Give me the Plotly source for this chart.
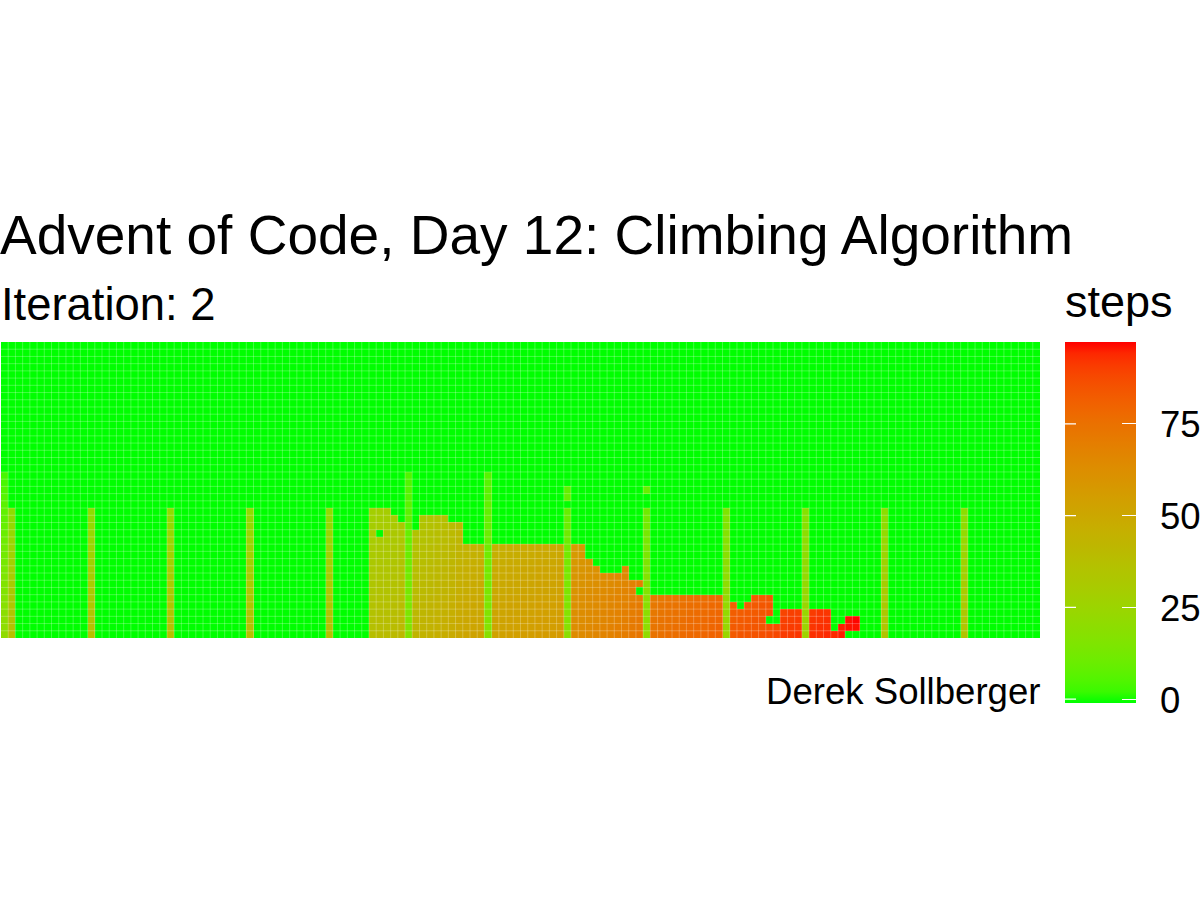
import numpy as np
import plotly.graph_objects as go

TITLE = "Advent of Code, Day 12: Climbing Algorithm"
SUBTITLE = "Iteration: 2"
CAPTION = "Derek Sollberger"
LEGEND_TITLE = "steps"
N_ROWS = 41
N_COLS = 144
UNVISITED = -1
LEGEND_MAX = 97.3
TICKS = [0, 25, 50, 75]

# Tall stripes: column -> (first row, values going down)
STRIPE_A = [20, 21, 22, 23, 24, 25, 26, 27, 28, 29, 30, 31, 32, 33, 34, 35, 36, 37]
STRIPE_B = [19, 20, 21, 22, 23, 24, 25, 26, 27, 28, 29, 30, 30, 31, 32, 33, 34, 35]
STRIPES = {
    0: (18, [4, 4, 5, 6, 7, 8, 8, 9, 10, 11, 12, 12, 13, 14, 15, 16, 16, 17, 18, 19, 20, 20, 21]),
    1: (23, STRIPE_A), 12: (23, STRIPE_A), 23: (23, STRIPE_A), 34: (23, STRIPE_A), 45: (23, STRIPE_A),
    122: (23, STRIPE_B), 133: (23, STRIPE_B),
    56: (18, [5, 5, 6, 6, 7, 7, 8, 8, 9, 9, 10, 10, 11, 11, 12, 12, 13, 14, 14, 15, 15, 16, 17]),
    67: (18, [6, 6, 7, 7, 8, 8, 9, 9, 10, 10, 11, 11, 12, 12, 13, 13, 14, 15, 15, 16, 16, 17, 18]),
    78: (20, [8, 9, UNVISITED, 9, 10, 10, 11, 11, 12, 12, 13, 13, 14, 14, 15, 15, 16, 17, 17, 18, 19]),
    89: (20, [9, UNVISITED, UNVISITED, 11, 12, 12, 13, 13, 14, 14, 15, 15, 16, 16, 17, 18, 18, 19, 19, 20, 21]),
    100: (23, [15, 16, 16, 17, 17, 18, 18, 19, 19, 20, 20, 21, 21, 22, 22, 23, 23, 24]),
    111: (23, [17, 18, 18, 19, 19, 20, 20, 21, 21, 22, 22, 23, 23, 24, 24, 25, 25, 26]),
}

# Main climbing front: column -> (first row, values going down)
FRONT = {
    51: (23, [28, 28, 29, 30, 30, 31, 31, 32, 33, 33, 34, 34, 35, 36, 36, 37, 37, 38]),
    52: (23, [29, 29, 30, UNVISITED, 31, 32, 32, 33, 34, 34, 35, 35, 36, 37, 37, 38, 38, 39]),
    53: (23, [29, 29, 30, 31, 31, 32, 32, 33, 34, 34, 35, 35, 36, 37, 37, 38, 38, 39]),
    54: (24, [30, 31, 32, 32, 33, 33, 34, 35, 35, 36, 36, 37, 38, 38, 39, 39, 40]),
    55: (25, [32, 33, 33, 34, 34, 35, 36, 36, 37, 37, 38, 39, 39, 40, 40, 41]),
    57: (26, [35, 35, 36, 36, 37, 38, 38, 39, 39, 40, 41, 41, 42, 42, 43]),
    58: (24, [34, 35, 36, 36, 37, 37, 38, 39, 39, 40, 40, 41, 42, 42, 43, 43, 44]),
    59: (24, [35, 36, 37, 37, 38, 38, 39, 40, 40, 41, 41, 42, 43, 43, 44, 44, 45]),
    60: (24, [36, 37, 38, 38, 39, 39, 40, 41, 41, 42, 42, 43, 44, 44, 45, 45, 46]),
    61: (24, [37, 38, 39, 39, 40, 40, 41, 42, 42, 43, 43, 44, 45, 45, 46, 46, 47]),
    62: (25, [39, 40, 40, 41, 41, 42, 43, 43, 44, 44, 45, 46, 46, 47, 47, 48]),
    63: (25, [41, 42, 42, 43, 43, 44, 45, 45, 46, 46, 47, 48, 48, 49, 49, 50]),
    64: (28, [44, 44, 45, 46, 46, 47, 47, 48, 49, 49, 50, 50, 51]),
    65: (28, [45, 45, 46, 47, 47, 48, 48, 49, 50, 50, 51, 51, 52]),
    66: (28, [45, 45, 46, 47, 47, 48, 48, 49, 50, 50, 51, 51, 52]),
    68: (28, [46, 46, 47, 48, 48, 49, 49, 50, 51, 51, 52, 52, 53]),
    69: (28, [46, 46, 47, 48, 48, 49, 49, 50, 51, 51, 52, 52, 53]),
    70: (28, [47, 47, 48, 49, 49, 50, 50, 51, 52, 52, 53, 53, 54]),
    71: (28, [47, 47, 48, 49, 49, 50, 50, 51, 52, 52, 53, 53, 54]),
    72: (28, [48, 48, 49, 50, 50, 51, 51, 52, 53, 53, 54, 54, 55]),
    73: (28, [48, 48, 49, 50, 50, 51, 51, 52, 53, 53, 54, 54, 55]),
    74: (28, [49, 49, 50, 51, 51, 52, 52, 53, 54, 54, 55, 55, 56]),
    75: (28, [49, 49, 50, 51, 51, 52, 52, 53, 54, 54, 55, 55, 56]),
    76: (28, [49, 49, 50, 51, 51, 52, 52, 53, 54, 54, 55, 55, 56]),
    77: (28, [50, 50, 51, 52, 52, 53, 53, 54, 55, 55, 56, 56, 57]),
    79: (28, [57, 57, 58, 59, 59, 60, 60, 61, 62, 62, 63, 63, 64]),
    80: (28, [57, 58, 59, 59, 60, 60, 61, 62, 62, 63, 63, 64, 64]),
    81: (30, [60, 60, 61, 61, 62, 63, 63, 64, 64, 65, 65]),
    82: (31, [61, 62, 62, 63, 64, 64, 65, 65, 66, 66]),
    83: (32, [63, 63, 64, 65, 65, 66, 66, 67, 67]),
    84: (32, [64, 64, 65, 66, 66, 67, 67, 68, 68]),
    85: (32, [65, 65, 66, 67, 67, 68, 68, 69, 69]),
    86: (31, [65, 65, 66, 67, 67, 68, 69, 69, 70, 70]),
    87: (33, [68, 69, 69, 70, 70, 71, 71, 72]),
    88: (33, [69, UNVISITED, 70, 71, 71, 72, 72, 73]),
    90: (35, [71, 72, 72, 73, 73, 74]),
    91: (35, [72, 73, 73, 74, 74, 75]),
    92: (35, [73, 74, 74, 75, 75, 76]),
    93: (35, [73, 74, 75, 75, 76, 76]),
    94: (35, [74, 75, 75, 76, 76, 77]),
    95: (35, [75, 76, 76, 77, 77, 78]),
    96: (35, [76, 76, 77, 77, 78, 78]),
    97: (35, [76, 77, 77, 78, 78, 79]),
    98: (35, [77, 78, 78, 79, 79, 80]),
    99: (35, [78, 78, 79, 79, 80, 80]),
    101: (36, [81, 82, 82, 83, 83]),
    102: (37, [82, 83, 83, 84]),
    103: (36, [82, 83, 83, 84, 84]),
    104: (35, [82, 83, 83, 84, 84, 85]),
    105: (35, [83, 84, 84, 85, 85, 86]),
    106: (35, [84, 84, 85, UNVISITED, 86, 87]),
    107: (39, [87, 88]),
    108: (37, [89, 90, 90, 91]),
    109: (37, [90, 90, 91, 91]),
    110: (37, [90, 91, 91, 92]),
    112: (37, [91, 92, 92, 93]),
    113: (37, [92, 92, 93, 93]),
    114: (37, [92, 93, 93, 94]),
    115: (40, [94]),
    116: (39, [95, 95]),
    117: (38, [96, 96]),
    118: (38, [97, 96]),
}

# ---- grid ----
z = np.full((N_ROWS, N_COLS), UNVISITED, dtype=float)
for table in (STRIPES, FRONT):
    for col, (first, vals) in table.items():
        for i, v in enumerate(vals):
            z[first + i, col] = v


# ---- green -> red colour ramp interpolated in Lab, as the original scale does ----
def srgb_to_lab(rgb):
    c = np.array(rgb, float) / 255
    lin = np.where(c > 0.04045, ((c + 0.055) / 1.055) ** 2.4, c / 12.92)
    m = np.array([[0.4124564, 0.3575761, 0.1804375],
                  [0.2126729, 0.7151522, 0.0721750],
                  [0.0193339, 0.1191920, 0.9503041]])
    xyz = m @ lin / np.array([0.95047, 1.0, 1.08883])
    f = np.where(xyz > 0.008856, np.cbrt(xyz), 7.787 * xyz + 16 / 116)
    return np.array([116 * f[1] - 16, 500 * (f[0] - f[1]), 200 * (f[1] - f[2])])


def lab_to_hex(lab):
    fy = (lab[0] + 16) / 116
    f = np.array([fy + lab[1] / 500, fy, fy - lab[2] / 200])
    xyz = np.where(f ** 3 > 0.008856, f ** 3, (f - 16 / 116) / 7.787) * np.array([0.95047, 1.0, 1.08883])
    m = np.array([[3.2404542, -1.5371385, -0.4985314],
                  [-0.9692660, 1.8760108, 0.0415560],
                  [0.0556434, -0.2040259, 1.0572252]])
    lin = np.clip(m @ xyz, 0, 1)
    c = np.where(lin > 0.0031308, 1.055 * lin ** (1 / 2.4) - 0.055, 12.92 * lin)
    r, g, b = np.round(c * 255).astype(int)
    return f"#{r:02x}{g:02x}{b:02x}"


low, high = srgb_to_lab([0, 255, 0]), srgb_to_lab([255, 0, 0])
colorscale = [[t, lab_to_hex(low + (high - low) * t)] for t in np.linspace(0, 1, 33)]

# ---- panel geometry ----
W, H = 1200, 900
P_L, P_R, P_T, P_B = 1, 1040, 342, 638
BAR_L, BAR_R, BAR_T, BAR_B = 1065, 1136, 342, 702.7


def px_x(p):
    return (p - P_L) / (P_R - P_L)


def px_y(p):
    return (P_B - p) / (P_B - P_T)


fig = go.Figure()
fig.add_trace(go.Heatmap(
    z=z, zmin=UNVISITED, zmax=LEGEND_MAX, colorscale=colorscale, xgap=0, ygap=0,
    colorbar=dict(
        xref="container", yref="paper", x=BAR_L / W, xanchor="left",
        y=px_y(BAR_B), yanchor="bottom",
        len=BAR_B - BAR_T, lenmode="pixels", thickness=BAR_R - BAR_L, thicknessmode="pixels",
        xpad=0, ypad=0, outlinewidth=0, borderwidth=0,
        tickmode="array", tickvals=TICKS, ticks="inside", ticklen=14, tickwidth=1.2,
        tickcolor="white", showticklabels=False,
    ),
))

# Faint seams between tiles
seam_x, seam_y = [], []
for c in range(1, N_COLS):
    seam_x += [c - 0.5, c - 0.5, None]
    seam_y += [-0.5, N_ROWS - 0.5, None]
for r in range(1, N_ROWS):
    seam_x += [-0.5, N_COLS - 0.5, None]
    seam_y += [r - 0.5, r - 0.5, None]
fig.add_trace(go.Scatter(x=seam_x, y=seam_y, mode="lines", hoverinfo="skip", showlegend=False,
                         line=dict(color="rgba(255,255,255,0.5)", width=0.5)))

# Left-edge tick marks (above the bar) and tick labels of the legend
legend_marks = []
for v in TICKS:
    py = BAR_B - (v - UNVISITED) / (LEGEND_MAX - UNVISITED) * (BAR_B - BAR_T)
    legend_marks.append(dict(text=" ", xref="paper", yref="paper", x=px_x(BAR_L), y=px_y(py),
                             showarrow=True, arrowhead=0, arrowcolor="white", arrowwidth=1.2,
                             standoff=0, startstandoff=0, ax=14, ay=0, axref="pixel", ayref="pixel"))
    legend_marks.append(dict(text=str(v), xref="paper", yref="paper", x=px_x(1158), y=px_y(py + 1),
                             xanchor="left", yanchor="middle", showarrow=False,
                             font=dict(family="Liberation Sans", size=36.5, color="black")))

fig.update_layout(
    width=W, height=H, autosize=False,
    paper_bgcolor="white", plot_bgcolor="white",
    margin=dict(l=P_L, r=W - P_R, t=P_T, b=H - P_B, autoexpand=False),
    xaxis=dict(visible=False, range=[-0.5, N_COLS - 0.5], constrain="domain"),
    yaxis=dict(visible=False, range=[N_ROWS - 0.5, -0.5]),
    title=dict(text=TITLE, xref="container", x=0, xanchor="left", yref="container",
               y=1 - 235 / H, yanchor="middle", pad=dict(l=0, r=0, t=0, b=0),
               font=dict(family="Liberation Sans", size=55, color="black")),
    annotations=[
        dict(text=SUBTITLE, xref="paper", yref="paper", x=px_x(-1), y=px_y(304), xanchor="left",
             yanchor="middle", showarrow=False, font=dict(family="Liberation Sans", size=45.4, color="black")),
        dict(text=CAPTION, xref="paper", yref="paper", x=px_x(1042), y=px_y(691), xanchor="right",
             yanchor="middle", showarrow=False, font=dict(family="Liberation Sans", size=36.6, color="black")),
        dict(text=LEGEND_TITLE, xref="paper", yref="paper", x=px_x(1063), y=px_y(301), xanchor="left",
             yanchor="middle", showarrow=False, font=dict(family="Liberation Sans", size=45, color="black")),
    ] + legend_marks,
)
fig.write_html("out.html", config=dict(displayModeBar=False),
               post_script="document.body.style.margin='0';document.body.style.overflow='hidden';")
